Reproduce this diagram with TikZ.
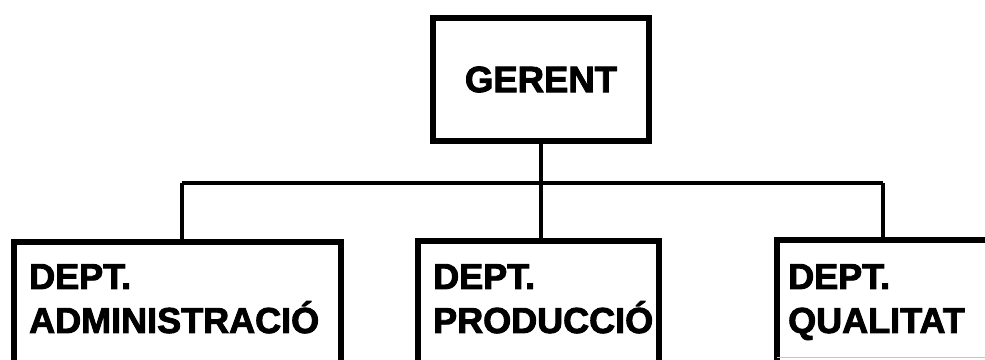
\documentclass[tikz,border=0pt]{standalone}
\usepackage{fontspec}
\setmainfont{Liberation Sans}
\newfontfamily\heavyfont{Liberation Sans Bold}[FakeBold=2.5]
\begin{document}
\begin{tikzpicture}[x=1pt,y=-1pt,
  box/.style={draw=black,line width=6pt,inner sep=0pt,anchor=north west},
  lbl/.style={font=\heavyfont\fontsize{36}{44}\selectfont,anchor=north west,inner sep=0pt,align=left},
  conn/.style={line width=3.5pt}]
\useasboundingbox (0,0) rectangle (985,359);
\clip (0,0) rectangle (985,359);
\fill[white] (0,0) rectangle (985,359);
% top box
\node[box,minimum width=216pt,minimum height=123pt,font=\heavyfont\fontsize{36.5}{44}\selectfont] (ger) at (430,15) {GERENT};
% department boxes
\node[box,minimum width=327pt,minimum height=200pt] (adm) at (11,239) {};
\node[box,minimum width=241pt,minimum height=200pt] (prod) at (415,238) {};
\node[box,minimum width=300pt,minimum height=200pt] (qual) at (774,237) {};
\draw[gray!45,line width=1pt] (777,357.5) -- (985,357.5);
% labels
\node[lbl] (admt) at (29,264) {DEPT.\\ADMINISTRACIÓ};
\node[lbl] (prodt) at (433,264) {DEPT.\\PRODUCCIÓ};
\node[lbl] (qualt) at (788,264) {DEPT.\\QUALITAT};
% connectors
\coordinate (hl) at (182,183);
\coordinate (hr) at (883,183);
\draw[conn] (ger.south) -- (prod.north -| ger.south);
\draw[conn] (hl) -- (hr);
\draw[conn] (hl) -- (hl |- adm.north);
\draw[conn] (hr) -- (hr |- qual.north);
\end{tikzpicture}
\end{document}
